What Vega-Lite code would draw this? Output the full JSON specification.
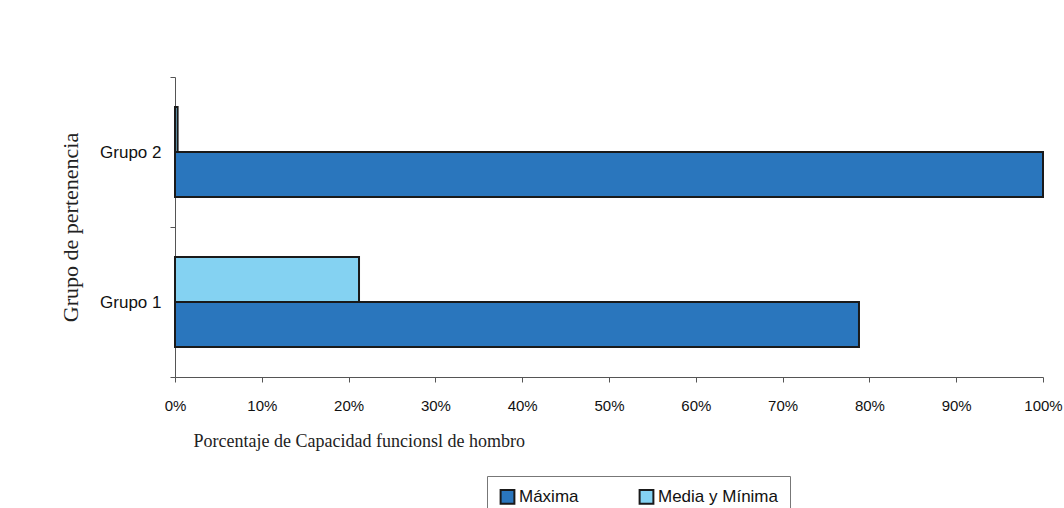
{
  "$schema": "https://vega.github.io/schema/vega-lite/v6.json",
  "width": 868,
  "height": 300,
  "autosize": {"type": "none"},
  "padding": {"left": 175, "top": 77, "right": 21, "bottom": 131},
  "background": "white",
  "config": {"view": {"stroke": null}},
  "data": {
    "values": [
      {"grupo": "Grupo 2", "serie": "Máxima", "valor": 1.0},
      {"grupo": "Grupo 2", "serie": "Media y Mínima", "valor": 0.003},
      {"grupo": "Grupo 1", "serie": "Máxima", "valor": 0.788},
      {"grupo": "Grupo 1", "serie": "Media y Mínima", "valor": 0.212}
    ]
  },
  "mark": {"type": "bar", "stroke": "#1a1a1a", "strokeWidth": 2},
  "encoding": {
    "y": {
      "field": "grupo",
      "type": "nominal",
      "sort": ["Grupo 2", "Grupo 1"],
      "scale": {"paddingInner": 0, "paddingOuter": 0},
      "axis": {
        "title": "Grupo de pertenencia",
        "titleFont": "Liberation Serif",
        "titleFontSize": 22,
        "titleFontWeight": "normal",
        "titleColor": "#222",
        "titlePadding": 17,
        "labelFont": "Liberation Sans",
        "labelFontSize": 17,
        "labelColor": "#111",
        "labelPadding": 9,
        "tickBand": "extent",
        "tickSize": 5,
        "tickColor": "#555",
        "domainColor": "#555"
      }
    },
    "yOffset": {
      "field": "serie",
      "type": "nominal",
      "sort": ["Media y Mínima", "Máxima"],
      "scale": {"paddingInner": 0, "paddingOuter": 0.667}
    },
    "x": {
      "field": "valor",
      "type": "quantitative",
      "scale": {"domain": [0, 1]},
      "axis": {
        "format": ".0%",
        "values": [0, 0.1, 0.2, 0.3, 0.4, 0.5, 0.6, 0.7, 0.8, 0.9, 1.0],
        "grid": false,
        "title": "Porcentaje de Capacidad funcionsl de hombro",
        "titleFont": "Liberation Serif",
        "titleFontSize": 18,
        "titleFontWeight": "normal",
        "titleColor": "#222",
        "titleAlign": "left",
        "titleAnchor": "start",
        "titleX": 18,
        "titleY": 69,
        "titleBaseline": "alphabetic",
        "labelFont": "Liberation Sans",
        "labelFontSize": 15,
        "labelColor": "#111",
        "labelPadding": 16,
        "tickSize": 5,
        "tickColor": "#555",
        "domainColor": "#555",
        "labelFlush": false
      }
    },
    "color": {
      "field": "serie",
      "type": "nominal",
      "scale": {"domain": ["Máxima", "Media y Mínima"], "range": ["#2a76bd", "#84d2f2"]},
      "legend": {
        "title": null,
        "orient": "none",
        "direction": "horizontal",
        "legendX": 312,
        "legendY": 399,
        "symbolType": "square",
        "symbolSize": 190,
        "symbolStrokeColor": "#1a1a1a",
        "symbolStrokeWidth": 2,
        "labelFont": "Liberation Sans",
        "labelFontSize": 17,
        "labelColor": "#111",
        "labelOffset": 3,
        "columnPadding": 56,
        "padding": 12,
        "strokeColor": "#777",
        "fillColor": "white"
      }
    }
  }
}
